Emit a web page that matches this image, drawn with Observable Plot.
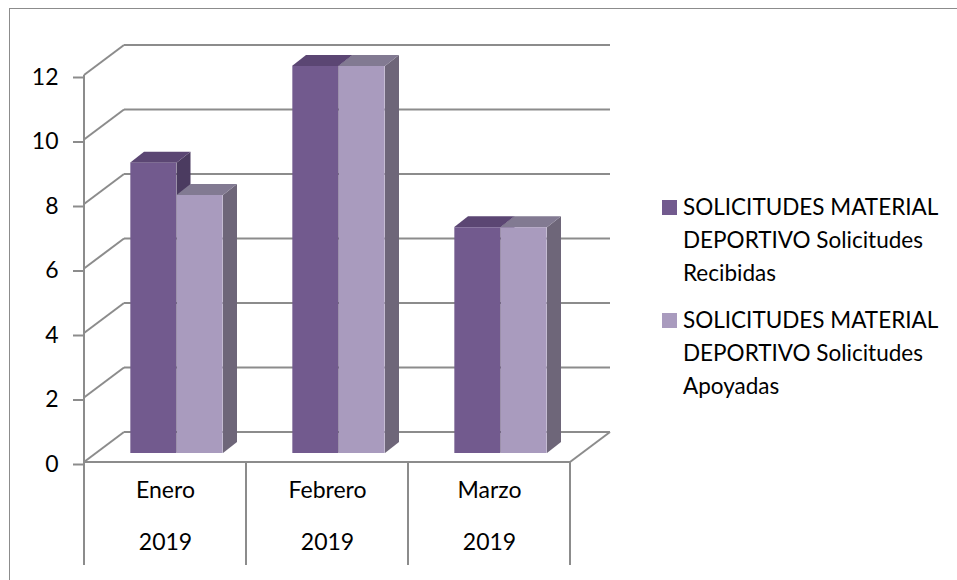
<!DOCTYPE html>
<html>
<head>
<meta charset="utf-8">
<script src="https://cdn.jsdelivr.net/npm/d3@7"></script>
<script src="https://cdn.jsdelivr.net/npm/@observablehq/plot@0.6"></script>
<style>
  html, body { margin: 0; padding: 0; background: #fff; overflow: hidden; }
  #wrap { position: relative; width: 957px; height: 580px; overflow: hidden; font-family: Lato, "Open Sans", sans-serif; }
  #frame { position: absolute; left: 9px; top: 8px; width: 2000px; height: 2000px; border: 1px solid #8c8c8c; box-sizing: border-box; }
  #chart { position: absolute; left: 0; top: 0; }
  #legend { position: absolute; left: 662px; top: 190px; font-size: 22.5px; line-height: 33px; color: #000; }
  .item { display: flex; align-items: flex-start; margin-bottom: 14px; }
  .sw { width: 15px; height: 15px; margin-top: 10px; margin-right: 6px; flex: none; }
</style>
</head>
<body>
<div id="wrap">
  <div id="frame"></div>
  <div id="chart"></div>
  <div id="legend"></div>
</div>
<script>
// ---- data ----
const months = ["Enero", "Febrero", "Marzo"];
const years = ["2019", "2019", "2019"];
const recibidas = [9, 12, 7];
const apoyadas = [8, 12, 7];
const seriesLabels = [
  ["SOLICITUDES MATERIAL", "DEPORTIVO Solicitudes", "Recibidas"],
  ["SOLICITUDES MATERIAL", "DEPORTIVO Solicitudes", "Apoyadas"]
];
const yTicks = [0, 2, 4, 6, 8, 10, 12];

// ---- styling ----
const FONT = "Lato, 'Open Sans', sans-serif";
const FS = 23;
const GRID = "#8c8c8c";
const FRONT = ["#725a8e", "#a99bbe"];
const TOP = ["#5b4673", "#827a92"];
const SIDE = ["#4b3b60", "#6e6679"];
const W = 957, H = 580;
const M = {left: 83, right: 386, top: 75, bottom: 118};
const WALL = {dx: 40, dy: -30};   // depth of back wall
const PLANE = {dx: 11.5, dy: -9}; // plane where bars stand
const THICK = {dx: 14, dy: -11};  // bar depth
const BAR_W = 46.5;               // bar width (px)
const bw = (W - M.left - M.right) / months.length;

const rows = [];
months.forEach((m, i) => {
  rows.push({month: m, year: years[i], s: 0, value: recibidas[i]});
  rows.push({month: m, year: years[i], s: 1, value: apoyadas[i]});
});
const labels = months.map((m, i) => ({month: m, year: years[i]}));

function findScales(args) { return args.find(a => a && typeof a.y === "function" && typeof a.x === "function"); }

// back wall, floor, axis line, category dividers
function wallMark(...args) {
  const {x, y} = findScales(args);
  const g = d3.create("svg:g").attr("fill", "none").attr("stroke", GRID).attr("stroke-width", 2);
  const x0 = x(months[0]), x1 = x(months[months.length - 1]) + x.bandwidth();
  const y0 = y(0);
  for (const t of yTicks) {
    const yy = y(t);
    g.append("line").attr("x1", x0).attr("y1", yy).attr("x2", x0 + WALL.dx).attr("y2", yy + WALL.dy);
    g.append("line").attr("x1", x0 + WALL.dx).attr("y1", yy + WALL.dy).attr("x2", x1 + WALL.dx).attr("y2", yy + WALL.dy);
  }
  g.append("line").attr("x1", x0).attr("y1", y0).attr("x2", x1).attr("y2", y0);
  g.append("line").attr("x1", x1).attr("y1", y0).attr("x2", x1 + WALL.dx).attr("y2", y0 + WALL.dy);
  g.append("line").attr("x1", x0).attr("y1", y0).attr("x2", x0).attr("y2", y(yTicks[yTicks.length - 1]));
  const edges = months.map(m => x(m)).concat([x1]);
  for (const e of edges) {
    g.append("line").attr("x1", e).attr("y1", y0).attr("x2", e).attr("y2", y0 + 103);
  }
  return g.node();
}

// tops and sides of the bars
function facesMark(...args) {
  const {x, y} = findScales(args);
  const g = d3.create("svg:g").attr("stroke", "none");
  for (const r of rows) {
    const cx = x(r.month) + x.bandwidth() / 2 + PLANE.dx;
    const left = r.s === 0 ? cx - BAR_W : cx;
    const right = left + BAR_W;
    const top = y(r.value) + PLANE.dy, bottom = y(0) + PLANE.dy;
    const side = [[right, top], [right + THICK.dx, top + THICK.dy], [right + THICK.dx, bottom + THICK.dy], [right, bottom]];
    const topF = [[left, top], [left + THICK.dx, top + THICK.dy], [right + THICK.dx, top + THICK.dy], [right, top]];
    g.append("polygon").attr("points", side.join(" ")).attr("fill", SIDE[r.s]);
    g.append("polygon").attr("points", topF.join(" ")).attr("fill", TOP[r.s]);
  }
  return g.node();
}

const chart = Plot.plot({
  width: W, height: H,
  marginLeft: M.left, marginRight: M.right, marginTop: M.top, marginBottom: M.bottom,
  x: {type: "band", domain: months, padding: 0, axis: null},
  y: {domain: [0, 12], axis: null},
  style: {fontFamily: FONT, fontSize: FS + "px", background: "transparent", color: "#000", overflow: "visible"},
  marks: [
    wallMark,
    Plot.axisY({ticks: yTicks, tickSize: 10, tickPadding: 15, stroke: GRID, strokeWidth: 2, fill: "#000", fontSize: FS, label: null, dy: 2}),
    facesMark,
    Plot.barY(rows.filter(r => r.s === 0), {x: "month", y: "value", fill: FRONT[0], insetLeft: bw / 2 - BAR_W, insetRight: bw / 2, dx: PLANE.dx, dy: PLANE.dy}),
    Plot.barY(rows.filter(r => r.s === 1), {x: "month", y: "value", fill: FRONT[1], insetLeft: bw / 2, insetRight: bw / 2 - BAR_W, dx: PLANE.dx, dy: PLANE.dy}),
    Plot.text(labels, {x: "month", text: "month", frameAnchor: "bottom", dy: 35, fontSize: FS, fill: "#000"}),
    Plot.text(labels, {x: "month", text: "year", frameAnchor: "bottom", dy: 87, fontSize: FS, fill: "#000"})
  ]
});
document.getElementById("chart").appendChild(chart);

// legend
const legend = document.getElementById("legend");
seriesLabels.forEach((lines, i) => {
  const item = document.createElement("div");
  item.className = "item";
  const sw = document.createElement("div");
  sw.className = "sw";
  sw.style.background = FRONT[i];
  const tx = document.createElement("div");
  tx.innerHTML = lines.join("<br>");
  item.appendChild(sw);
  item.appendChild(tx);
  legend.appendChild(item);
});
</script>
</body>
</html>
